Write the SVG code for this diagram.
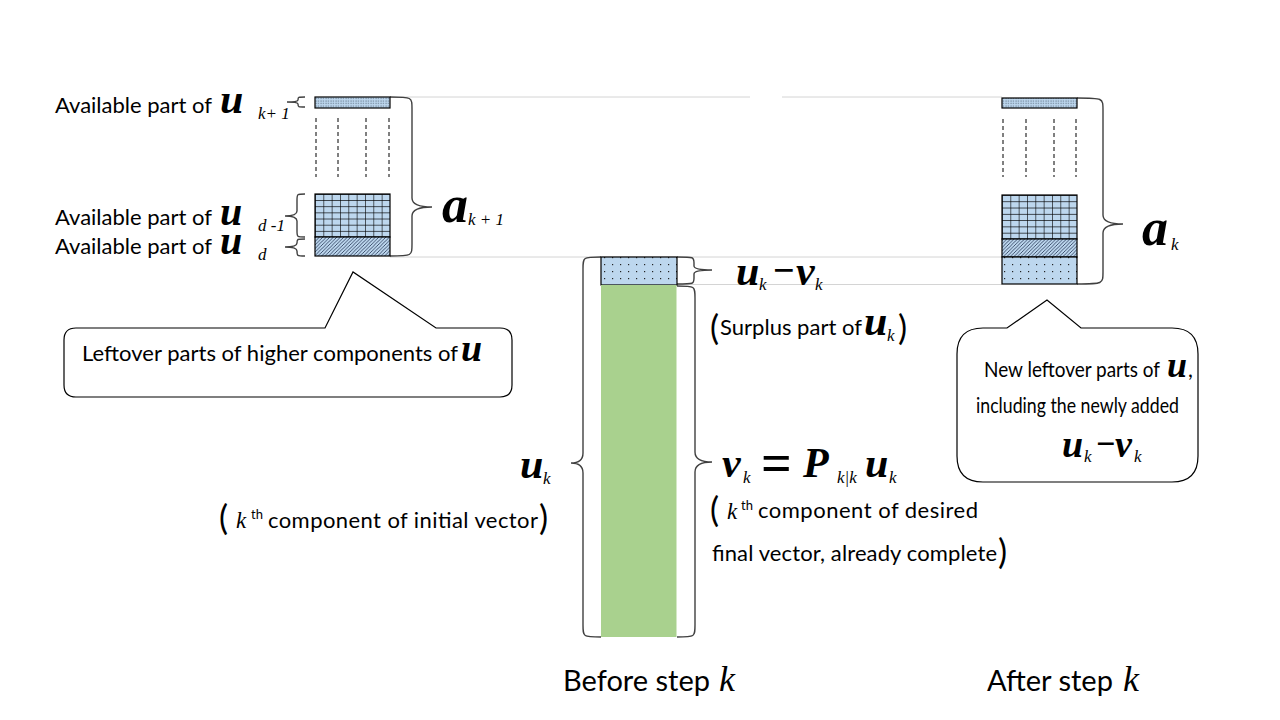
<svg xmlns="http://www.w3.org/2000/svg" width="1280" height="720" viewBox="0 0 1280 720">
<defs>
<pattern id="denseDots" patternUnits="userSpaceOnUse" width="2.5" height="2.5">
<rect width="2.5" height="2.5" fill="#bdd7ee"/>
<rect x="0.5" y="0.5" width="1" height="1" fill="#4a5a6a"/>
</pattern>
<pattern id="sparseDots" patternUnits="userSpaceOnUse" width="8" height="7" x="1" y="2">
<rect width="8" height="7" fill="#bdd7ee"/>
<rect x="3" y="3" width="1.2" height="1.2" fill="#222"/>
</pattern>
<pattern id="grid" patternUnits="objectBoundingBox" width="0.1111" height="0.142857">
<rect width="10" height="10" fill="#bdd7ee"/>
<path d="M0 0 H10 M0 0 V10" stroke="#000" stroke-width="1.2" fill="none"/>
</pattern>
<pattern id="hatch" patternUnits="userSpaceOnUse" width="3.5" height="3.5">
<rect width="3.5" height="3.5" fill="#bdd7ee"/>
<path d="M-1 4.5 L4.5 -1 M-1 1 L1 -1 M2.5 4.5 L4.5 2.5" stroke="#1f2f4f" stroke-width="0.8"/>
</pattern>
</defs>
<style>
.box{stroke:#000;stroke-width:1.2}
.dash{stroke:#000;stroke-width:1;stroke-dasharray:4 3}
.guide{stroke:#d4d4d4;stroke-width:1;fill:none}
.brace{stroke:#404040;stroke-width:1.4;fill:none}
.callout{fill:#fff;stroke:#000;stroke-width:1.2}
.t{font-family:Lato,"Liberation Sans",sans-serif;font-size:22px;fill:#000}
.t2{font-family:Lato,"Liberation Sans",sans-serif;font-size:21.5px;fill:#000}
.big{font-family:Lato,"Liberation Sans",sans-serif;font-size:29px;fill:#000}
.par{font-family:Lato,"Liberation Sans",sans-serif;font-size:34px;fill:#000}
.m{font-family:"Liberation Serif","Times New Roman",serif;font-style:italic;font-weight:bold;font-size:42px;fill:#000}
.s{font-family:"Liberation Serif","Times New Roman",serif;font-style:italic;font-size:17px;fill:#000}
.ki{font-family:"Liberation Serif","Times New Roman",serif;font-style:italic;font-size:23px;fill:#000}
.op{font-family:"Liberation Serif","Times New Roman",serif;font-weight:bold;font-size:38px;fill:#000}
.sup{font-family:Lato,"Liberation Sans",sans-serif;font-size:13px;fill:#000}
</style>
<rect width="1280" height="720" fill="#fff"/>

<g id="connectors">
<path class="guide" d="M390 97 H750 M782 97 H1002"/>
<path class="guide" d="M390 257 H1002"/>
<path class="guide" d="M677 284.5 H1002"/>
<path class="brace" d="M390 97 C412 97 412 97 412 109 L412 198 Q412 207 432 207 Q412 207 412 216 L412 244 C412 256 412 256 390 256"/>
<path class="brace" d="M1077 98 C1103 98 1103 98 1103 110 L1103 215 Q1103 224 1123 224 Q1103 224 1103 233 L1103 272 C1103 284 1103 284 1077 284"/>
<path class="brace" d="M677 286 C695 286 695 286 695 298 L695 452 Q695 462 712 462 Q695 462 695 472 L695 625 C695 637 695 637 677 637"/>
<path class="brace" d="M677 257 C694 257 694 257 694 263 L694 266 Q694 270 712 270 Q694 270 694 274 L694 278 C694 284 694 284 677 284"/>
<path class="brace" d="M601 257 C583 257 583 257 583 269 L583 453 Q583 463 571 463 Q583 463 583 473 L583 625 C583 637 583 637 601 637"/>
<path class="brace" d="M305 97 C298 97 298 97 298 100 Q298 102 287 102 Q298 102 298 104 C298 107 298 107 305 107"/>
<path class="brace" d="M305 194 C297 194 297 194 297 200 L297 211 Q297 216 285 216 Q297 216 297 221 L297 231 C297 237 297 237 305 237"/>
<path class="brace" d="M305 239 C297 239 297 239 297 243 Q297 247 285 247 Q297 247 297 251 C297 256 297 256 305 256"/>
</g>

<g id="left-stack">
<rect class="box" x="315" y="97" width="75" height="11" fill="url(#denseDots)"/>
<path class="dash" d="M316 118 V177 M338 118 V177 M366 118 V177 M389 118 V177"/>
<rect class="box" x="315" y="194" width="75" height="43" fill="url(#grid)"/>
<rect class="box" x="315" y="237" width="75" height="19" fill="url(#hatch)"/>
</g>

<g id="left-labels">
<text class="t" x="55" y="113" textLength="157">Available part of</text>
<text class="m" x="220" y="113">u</text>
<text class="s" x="258" y="119">k+ 1</text>
<text class="t" x="55" y="225" textLength="157">Available part of</text>
<text class="m" x="220" y="225" style="font-size:40px">u</text>
<text class="s" x="258" y="231">d -1</text>
<text class="t" x="55" y="254" textLength="157">Available part of</text>
<text class="m" x="220" y="254" style="font-size:40px">u</text>
<text class="s" x="258" y="260">d</text>
<text class="m" x="442" y="222" style="font-size:52px">a</text>
<text class="s" x="468" y="225">k + 1</text>
</g>

<g id="middle-column">
<rect class="box" x="601" y="257" width="76" height="28" fill="url(#sparseDots)"/>
<rect x="601" y="285" width="75.5" height="352" fill="#a9d18e"/>
</g>

<g id="middle-labels">
<text class="m" x="736" y="285">u</text>
<text class="s" x="759" y="290">k</text>
<text class="op" x="773" y="283">−</text>
<text class="m" x="796" y="285">v</text>
<text class="s" x="815" y="290">k</text>

<text class="par" x="710" y="340">(</text>
<text class="t" x="720" y="335" textLength="142">Surplus part of</text>
<text class="m" x="864" y="335">u</text>
<text class="s" x="887" y="341">k</text>
<text class="par" x="898" y="340">)</text>

<text class="m" x="520" y="478">u</text>
<text class="s" x="543" y="484">k</text>
<text class="par" x="219" y="530">(</text>
<text class="ki" x="236" y="528">k</text>
<text class="sup" x="251" y="519">th</text>
<text class="t" x="268" y="528" textLength="270">component of initial vector</text>
<text class="par" x="539" y="530">)</text>

<text class="m" x="722" y="477">v</text>
<text class="s" x="743" y="483">k</text>
<text class="op" x="761" y="481" style="font-size:54px">=</text>
<text class="m" x="803" y="477">P</text>
<text class="s" x="837" y="483">k|k</text>
<text class="m" x="865" y="477">u</text>
<text class="s" x="889" y="483">k</text>

<text class="par" x="710" y="522">(</text>
<text class="ki" x="727" y="519">k</text>
<text class="sup" x="741" y="510">th</text>
<text class="t" x="758" y="518" textLength="220">component of desired</text>
<text class="t" x="712" y="561" textLength="285">final vector, already complete</text>
<text class="par" x="998" y="564">)</text>
</g>

<g id="right-stack">
<rect class="box" x="1002" y="98" width="75" height="10" fill="url(#denseDots)"/>
<path class="dash" d="M1003 119 V177 M1026 119 V177 M1054 119 V177 M1076 119 V177"/>
<rect class="box" x="1002" y="195" width="75" height="44" fill="url(#grid)"/>
<rect class="box" x="1002" y="239" width="75" height="18" fill="url(#hatch)"/>
<rect class="box" x="1002" y="257" width="75" height="27" fill="url(#sparseDots)"/>
</g>

<g id="right-labels">
<text class="m" x="1142" y="245" style="font-size:52px">a</text>
<text class="s" x="1171" y="250">k</text>
</g>

<g id="callout-left">
<path class="callout" d="M76 328 L325 328 L353 272 L436 328 L500 328 Q512 328 512 340 L512 385 Q512 397 500 397 L76 397 Q64 397 64 385 L64 340 Q64 328 76 328 Z"/>
<text class="t" x="82" y="361" textLength="376">Leftover parts of higher components of</text>
<text class="m" x="461" y="361" style="font-size:38px">u</text>
</g>

<g id="callout-right">
<path class="callout" d="M983 328 L1007 328 L1047 300 L1081 328 L1172 328 Q1198 328 1198 354 L1198 456 Q1198 482 1172 482 L983 482 Q957 482 957 456 L957 354 Q957 328 983 328 Z"/>
<text class="t2" x="984" y="377" textLength="176" lengthAdjust="spacingAndGlyphs">New leftover parts of</text>
<text class="m" x="1167" y="377" style="font-size:36px">u</text>
<text class="t2" x="1188" y="377">,</text>
<text class="t2" x="976" y="413" textLength="203" lengthAdjust="spacingAndGlyphs">including the newly added</text>
<text class="m" x="1062" y="457" style="font-size:38px">u</text>
<text class="s" x="1084" y="462">k</text>
<text class="op" x="1096" y="455" style="font-size:34px">−</text>
<text class="m" x="1115" y="457" style="font-size:38px">v</text>
<text class="s" x="1134" y="462">k</text>
</g>

<g id="step-labels">
<text class="big" x="563" y="691">Before step</text>
<text class="ki" x="719" y="691" style="font-size:36px">k</text>
<text class="big" x="987" y="691">After step</text>
<text class="ki" x="1123" y="691" style="font-size:36px">k</text>
</g>
</svg>
